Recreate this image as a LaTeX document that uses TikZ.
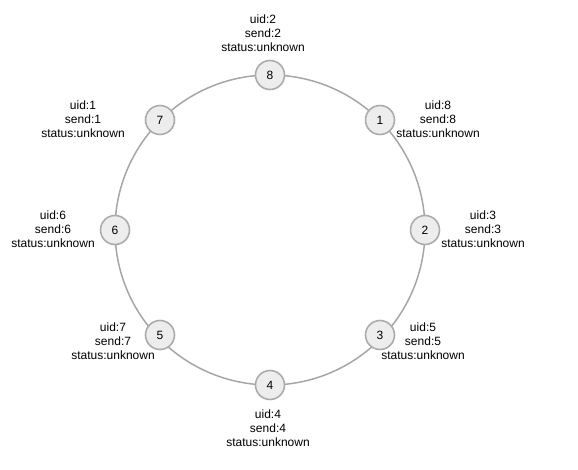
\documentclass[tikz,border=0pt]{standalone}
\usepackage{fontspec}
\setmainfont{Liberation Sans}
\begin{document}
\begin{tikzpicture}[x=1pt,y=-1pt,
  ringnode/.style={circle,draw=black!33,fill=black!7,line width=1.6pt,minimum size=29pt,inner sep=0pt,font=\fontsize{12}{14}\selectfont},
  info/.style={align=center,font=\fontsize{12}{14}\selectfont,inner sep=0pt}]
\useasboundingbox (0,0) rectangle (578,470);
\draw[black!35,line width=1.5pt] (270,230) circle[radius=155];
\foreach \n/\x/\y in {8/270/75,1/380/120,2/425/230,3/380/335,4/270/385,5/160/335,6/115/230,7/160/120}
  \node[ringnode] (n\n) at (\x,\y) {\n};
\node[info] (l8) at (263,33) {uid:2\\send:2\\status:unknown};
\node[info] (l1) at (438,119) {uid:8\\send:8\\status:unknown};
\node[info] (l2) at (483,229) {uid:3\\send:3\\status:unknown};
\node[info] (l3) at (423,341) {uid:5\\send:5\\status:unknown};
\node[info] (l4) at (268,428) {uid:4\\send:4\\status:unknown};
\node[info] (l5) at (113,341) {uid:7\\send:7\\status:unknown};
\node[info] (l6) at (53,229) {uid:6\\send:6\\status:unknown};
\node[info] (l7) at (83,119) {uid:1\\send:1\\status:unknown};
\end{tikzpicture}
\end{document}
